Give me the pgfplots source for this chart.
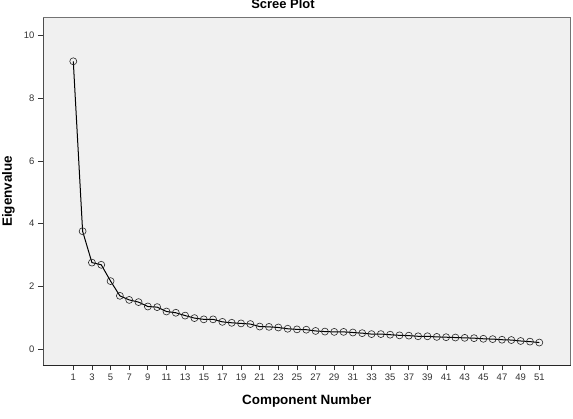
\documentclass[border=0pt]{standalone}
\usepackage{fontspec}
\setmainfont{Liberation Sans}
\usepackage{pgfplots}
\pgfplotsset{compat=1.18}
\usepackage{pgfplotstable}
\usetikzlibrary{calc}
\definecolor{plotbg}{HTML}{F0F0F0}
\pgfplotstableread{
x y
1 9.18
2 3.76
3 2.76
4 2.69
5 2.17
6 1.70
7 1.57
8 1.50
9 1.36
10 1.34
11 1.20
12 1.16
13 1.07
14 0.99
15 0.95
16 0.95
17 0.87
18 0.84
19 0.82
20 0.80
21 0.72
22 0.71
23 0.69
24 0.65
25 0.63
26 0.62
27 0.58
28 0.56
29 0.55
30 0.55
31 0.53
32 0.51
33 0.48
34 0.48
35 0.46
36 0.44
37 0.43
38 0.41
39 0.41
40 0.39
41 0.38
42 0.37
43 0.36
44 0.35
45 0.33
46 0.32
47 0.30
48 0.29
49 0.26
50 0.24
51 0.21
}\scree
\begin{document}
\begin{tikzpicture}
\begin{axis}[
  name=ax,
  scale only axis,
  width=527.5bp, height=347.3bp,
  xmin=-2.25, xmax=54.35,
  ymin=-0.506, ymax=10.57,
  axis background/.style={fill=plotbg},
  axis line style={draw=black!55, line width=0.8bp},
  xtick={1,3,...,51},
  ytick={0,2,...,10},
  tick align=outside,
  major tick length=5bp,
  tick style={black!80, line width=0.7bp},
  xtick pos=bottom, ytick pos=left,
  /pgf/number format/assume math mode=true,
  tick label style={font=\fontsize{9.5}{11}\selectfont, text=black!80},
  xlabel={Component Number},
  ylabel={Eigenvalue},
  label style={font=\fontsize{13.5}{16}\selectfont\bfseries},
  xlabel style={at={(axis description cs:0.5,-0.1123)}, anchor=base},
  ylabel style={at={(axis description cs:-0.0588,0.5)}, anchor=base, rotate=0},
  title={Scree Plot},
  title style={font=\fontsize{13}{15}\selectfont\bfseries, inner sep=0pt, at={(axis description cs:0.455,1.0107)}, anchor=base},
  clip=false,
]
\addplot[black, line width=1bp, mark=o,
  mark options={draw=black!85, fill=gray!30, line width=0.6bp},
  mark size=3.5bp] table[x=x,y=y] {\scree};
\draw[black!85, line width=0.9bp] (rel axis cs:0,0) -- (rel axis cs:1,0);
\draw[black!70, line width=0.9bp] (rel axis cs:0,0) -- (rel axis cs:0,1);
\coordinate (bl) at (rel axis cs:0,0);
\coordinate (tr) at (rel axis cs:1,1);
\end{axis}
\pgfresetboundingbox
\path[use as bounding box] ($(bl)+(-43bp,-54bp)$) rectangle ($(tr)+(2.5bp,17.7bp)$);
\end{tikzpicture}
\end{document}
